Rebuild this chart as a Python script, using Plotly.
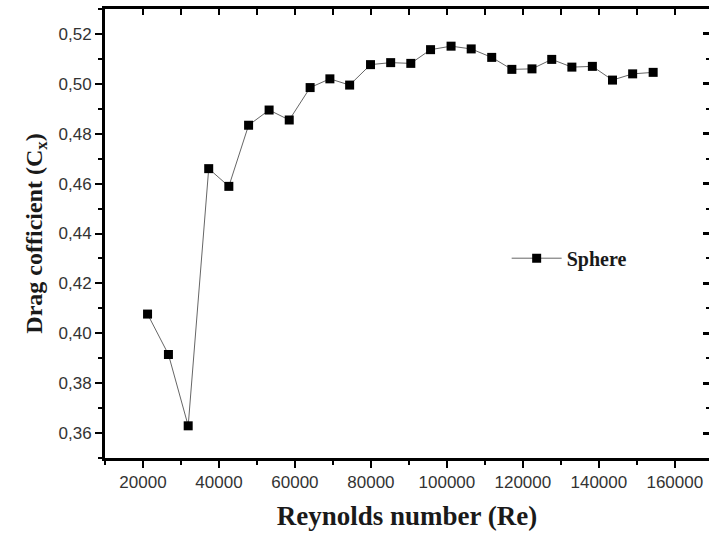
import plotly.graph_objects as go

reynolds = [21200, 26700, 31900, 37300, 42600, 47800, 53200, 58500, 64000, 69200,
            74400, 79900, 85200, 90500, 95700, 101100, 106400, 111800, 117100, 122400,
            127600, 132900, 138300, 143600, 148900, 154300]
drag = [0.4077, 0.3915, 0.3629, 0.4660, 0.4589, 0.4834, 0.4895, 0.4855, 0.4985, 0.5020,
        0.4995, 0.5077, 0.5085, 0.5082, 0.5137, 0.5151, 0.5140, 0.5106, 0.5058, 0.5060,
        0.5098, 0.5067, 0.5070, 0.5015, 0.5040, 0.5046]
series_name = "Sphere"
x_title = "Reynolds number (Re)"
y_title = "Drag cofficient (C<sub>x</sub>)"

X_RANGE = [10000, 169000]
Y_RANGE = [0.35, 0.53]

fig = go.Figure()
fig.add_trace(go.Scatter(
    x=reynolds, y=drag, mode="lines+markers", name="<b>" + series_name + "</b>",
    line=dict(color="#666666", width=1),
    marker=dict(symbol="square", size=9, color="black"),
))
# invisible trace to activate secondary axes (top / right ticks)
fig.add_trace(go.Scatter(x=[None], y=[None], xaxis="x2", yaxis="y2",
                         showlegend=False, hoverinfo="skip"))

tick_font = dict(family="Liberation Sans, Arial, sans-serif", size=17, color="#333333")
title_font = dict(family="Liberation Serif, Times New Roman, serif", size=27, color="#1a1a1a")

fig.update_layout(
    width=709, height=536,
    margin=dict(l=105, r=0, t=9, b=78),
    paper_bgcolor="white", plot_bgcolor="white",
    separators=",.",
    showlegend=True,
    legend=dict(x=0.665, y=0.445, xanchor="left", yanchor="middle",
                bgcolor="rgba(0,0,0,0)", itemwidth=50,
                font=dict(family="Liberation Serif, Times New Roman, serif",
                          size=20, color="#1a1a1a")),
    xaxis=dict(
        range=X_RANGE, showgrid=False, zeroline=False,
        showline=True, linecolor="black", linewidth=3, mirror=True,
        ticks="outside", tickwidth=2, ticklen=7, tickcolor="black",
        tick0=0, dtick=20000, tickformat="d", tickfont=tick_font,
        minor=dict(ticks="outside", dtick=10000, tick0=0, ticklen=4,
                   tickwidth=2, tickcolor="black", showgrid=False),
        title=dict(text="<b>" + x_title + "</b>", font=title_font, standoff=15),
    ),
    yaxis=dict(
        range=Y_RANGE, showgrid=False, zeroline=False,
        showline=True, linecolor="black", linewidth=3,
        ticks="outside", tickwidth=2, ticklen=7, tickcolor="black",
        tick0=0, dtick=0.02, tickformat=".2f", tickfont=tick_font,
        minor=dict(ticks="outside", dtick=0.01, tick0=0, ticklen=4,
                   tickwidth=2, tickcolor="black", showgrid=False),
        title=dict(text="<b>" + y_title + "</b>", font=dict(title_font, size=24), standoff=10),
    ),
    xaxis2=dict(
        overlaying="x", side="top", range=X_RANGE, showgrid=False, zeroline=False,
        showline=False, ticks="inside", tickwidth=2, ticklen=6, tickcolor="black",
        tick0=0, dtick=10000, showticklabels=False,
    ),
    yaxis2=dict(
        overlaying="y", side="right", range=Y_RANGE, showgrid=False, zeroline=False,
        showline=False, ticks="inside", tickwidth=3, ticklen=6, tickcolor="black",
        tick0=0, dtick=0.02, showticklabels=False,
        minor=dict(ticks="inside", dtick=0.01, tick0=0, ticklen=3,
                   tickwidth=2, tickcolor="black", showgrid=False),
    ),
)

fig.write_html("out.html")
